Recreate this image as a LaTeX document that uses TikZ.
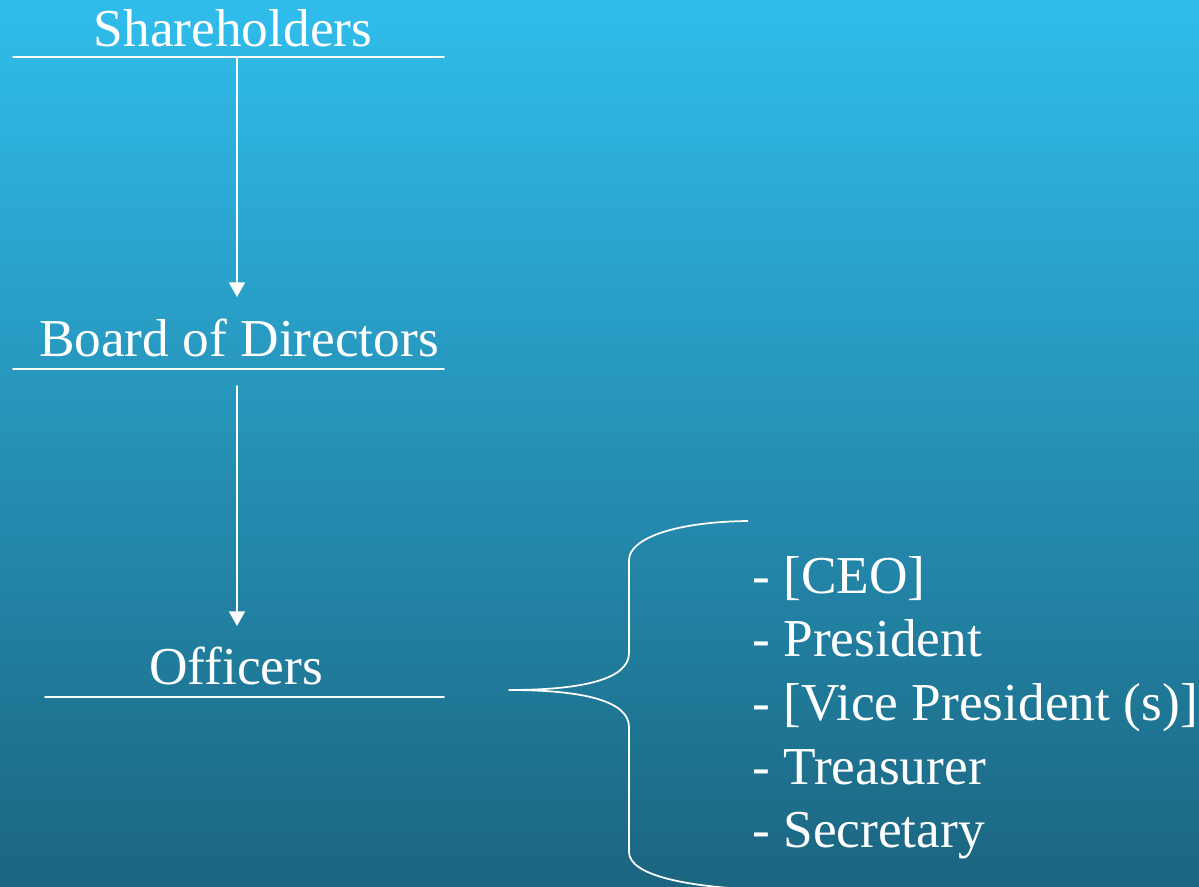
\documentclass[tikz,border=0pt]{standalone}
\usepackage{fontspec}
\setmainfont{LiberationSerif}[Extension=.ttf, UprightFont=*-Regular]
\usetikzlibrary{arrows.meta}
\definecolor{bgtop}{RGB}{48,189,236}
\definecolor{bgbot}{RGB}{27,101,128}
\tikzset{
	title/.style={anchor=base, inner sep=0pt, text=white},
	item/.style={anchor=base west, inner sep=0pt, text=white},
	bar/.style={white, line width=1.3pt}
}
\begin{document}
\begin{tikzpicture}[x=0.75pt,y=-0.75pt,>={Triangle[width=12pt,length=11pt]}, font=\fontsize{40}{48}\selectfont, line join=round, line cap=round]
	\useasboundingbox (0,0) rectangle (1199,887);
	\shade[top color=bgtop, bottom color=bgbot] (0,0) rectangle (1199,887);
	\clip (0,0) rectangle (1199,887);
	% levels
	\node[title] (share) at (233,47) {Shareholders};
	\node[title] (board) at (239,357) {Board of Directors};
	\node[title] (officers) at (236,684) {Officers};
	\draw[bar] (13,57) coordinate (sharel) -- (444,57) coordinate (sharer);
	\draw[bar] (13,369) coordinate (boardl) -- (444,369) coordinate (boardr);
	\draw[bar] (45,697) coordinate (offl) -- (444,697) coordinate (offr);
	\coordinate (sharefoot) at (237,57);
	\coordinate (boardhead) at (237,297);
	\coordinate (boardfoot) at (237,386);
	\coordinate (offhead) at (237,626);
	\draw[bar,-{>}] (sharefoot) -- (boardhead);
	\draw[bar,-{>}] (boardfoot) -- (offhead);
	% brace
	\coordinate (tip) at (509,690);
	\draw[bar, line cap=butt] (748,521) .. controls (670,522) and (629,540) .. (629,560) -- (629,653)
		.. controls (629,680) and (580,690) .. (tip)
		.. controls (580,690) and (629,700) .. (629,727) -- (629,852)
		.. controls (629,876) and (690,888) .. (770,890);
	% list of officers
	\foreach \t [count=\i] in {{- [CEO]},{- President},{- [Vice President (s)]},{- Treasurer},{- Secretary}}
		\node[item] (item\i) at (752,{593+63.7*(\i-1)}) {\t};
\end{tikzpicture}
\end{document}
